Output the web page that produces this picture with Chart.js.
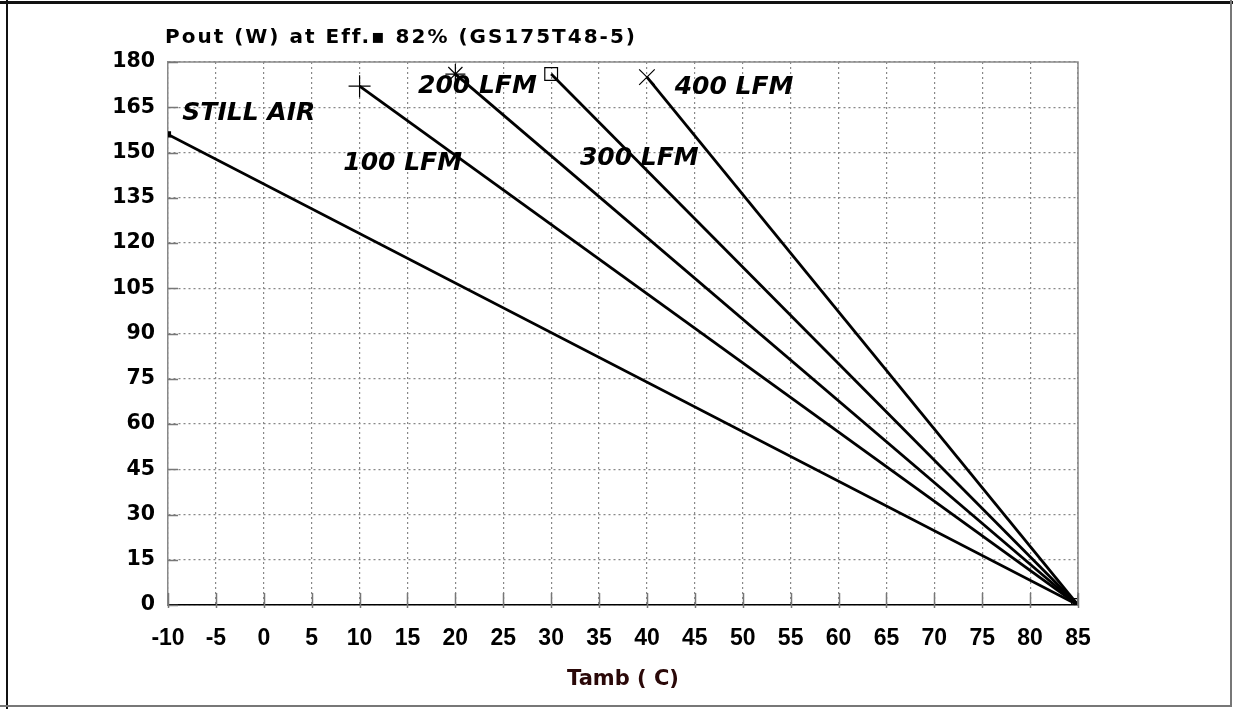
<!DOCTYPE html>
<html>
<head>
<meta charset="utf-8">
<script src="https://cdn.jsdelivr.net/npm/chart.js@4.4.0/dist/chart.umd.min.js"></script>
<style>
  html, body { margin: 0; padding: 0; background: #fff; }
  #wrap { width: 1233px; height: 709px; }
</style>
</head>
<body>
<div id="wrap"><canvas id="derate_chart"></canvas></div>
<script>
// derating curves, GS175T48-5
var seriesNames = ["STILL AIR", "100 LFM", "200 LFM", "300 LFM", "400 LFM"];
var startTemp = [-10, 10, 20, 30, 40];
var startPout = [156, 172, 176, 176, 175];
var endTemp = 85;
var endPout = 0;
var markers = ['rect', 'cross', 'star', 'rect', 'crossRot'];

var xTicks = [-10, -5, 0, 5, 10, 15, 20, 25, 30, 35, 40, 45, 50, 55, 60, 65, 70, 75, 80, 85];
var yTicks = [0, 15, 30, 45, 60, 75, 90, 105, 120, 135, 150, 165, 180];

// where the curve names are written (data units)
var labelTemp = [-8.5, 8.3, 16.1, 33, 42.9];
var labelPout = [163, 146.5, 172, 148, 171.7];

var titleText = "Pout (W) at Eff.\u25AA 82% (GS175T48-5)";

var datasets = seriesNames.map(function (name, i) {
    var r = 10;
    if (i === 0) r = 3.5;
    else if (markers[i] === 'rect') r = 9;
    else if (markers[i] === 'crossRot') r = 11;
    else if (markers[i] === 'cross') r = 11;
    return {
        label: name,
        data: [{ x: startTemp[i], y: startPout[i] }, { x: endTemp, y: endPout }],
        borderColor: '#000',
        borderWidth: 2.8,
        pointStyle: markers[i],
        pointRadius: r,
        pointBorderColor: '#000',
        pointBorderWidth: 1.2,
        pointBackgroundColor: i === 0 ? '#000' : 'rgba(0,0,0,0)',
        showLine: true,
        fill: false
    };
});

var extras = {
    id: 'extras',
    beforeDraw: function (chart) {
        var ctx = chart.ctx;
        ctx.save();
        ctx.fillStyle = '#fff';
        ctx.fillRect(0, 0, chart.width, chart.height);
        ctx.restore();
    },
    afterDraw: function (chart) {
        var ctx = chart.ctx;
        var a = chart.chartArea;
        var xs = chart.scales.x, ys = chart.scales.y;
        ctx.save();
        // outer frame
        ctx.strokeStyle = '#111';
        ctx.lineWidth = 3;
        ctx.beginPath(); ctx.moveTo(0, 2.5); ctx.lineTo(chart.width, 2.5); ctx.stroke();
        ctx.lineWidth = 2;
        ctx.beginPath(); ctx.moveTo(7, 0); ctx.lineTo(7, chart.height); ctx.stroke();
        ctx.strokeStyle = '#777';
        ctx.beginPath(); ctx.moveTo(1231, 0); ctx.lineTo(1231, 706); ctx.lineTo(0, 706); ctx.stroke();
        // plot box top and right
        ctx.strokeStyle = '#888';
        ctx.lineWidth = 1.5;
        ctx.beginPath();
        ctx.moveTo(a.left, a.top); ctx.lineTo(a.right, a.top); ctx.lineTo(a.right, a.bottom);
        ctx.stroke();
        // inside ticks
        ctx.strokeStyle = '#777';
        ctx.lineWidth = 1.5;
        xTicks.forEach(function (t) {
            var px = Math.round(xs.getPixelForValue(t)) + 0.5;
            ctx.beginPath(); ctx.moveTo(px, a.bottom - 12); ctx.lineTo(px, a.bottom + 3); ctx.stroke();
        });
        yTicks.forEach(function (t) {
            var py = Math.round(ys.getPixelForValue(t)) + 0.5;
            ctx.beginPath(); ctx.moveTo(a.left, py); ctx.lineTo(a.left + 10, py); ctx.stroke();
        });
        // title
        ctx.fillStyle = '#000';
        ctx.font = 'bold 20px "DejaVu Sans", sans-serif';
        ctx.letterSpacing = '2px';
        ctx.textAlign = 'left';
        ctx.textBaseline = 'middle';
        ctx.fillText(titleText, 165, 38);
        ctx.letterSpacing = '0px';
        // curve names
        ctx.font = 'italic bold 25px "DejaVu Sans", sans-serif';
        seriesNames.forEach(function (name, i) {
            ctx.fillText(name, xs.getPixelForValue(labelTemp[i]), ys.getPixelForValue(labelPout[i]));
        });
        ctx.restore();
    }
};

new Chart(document.getElementById("derate_chart").getContext("2d"), {
    type: 'scatter',
    data: { datasets: datasets },
    options: {
        responsive: true,
        maintainAspectRatio: false,
        animation: false,
        events: [],
        layout: { padding: { left: 8, right: 155, top: 62, bottom: 4 } },
        plugins: { legend: { display: false }, tooltip: { enabled: false } },
        scales: {
            x: {
                type: 'linear',
                min: -10,
                max: 85,
                afterBuildTicks: function (scale) {
                    scale.ticks = xTicks.map(function (v) { return { value: v }; });
                },
                afterFit: function (scale) { scale.height = 100; },
                grid: { color: '#888', lineWidth: 1.2, drawTicks: false },
                border: { color: '#000', width: 1.5, dash: [2, 3] },
                ticks: {
                    color: '#000',
                    padding: 20,
                    maxRotation: 0,
                    autoSkip: false,
                    font: { family: '"Liberation Sans", Arial, sans-serif', size: 23, weight: 'bold' }
                },
                title: {
                    display: true,
                    text: 'Tamb ( C)',
                    color: '#2a0808',
                    padding: { top: 0, bottom: 13 },
                    font: { family: '"DejaVu Sans", sans-serif', size: 21, weight: 'bold' }
                }
            },
            y: {
                type: 'linear',
                min: 0,
                max: 180,
                afterBuildTicks: function (scale) {
                    scale.ticks = yTicks.map(function (v) { return { value: v }; });
                },
                afterFit: function (scale) { scale.width = 160; },
                grid: { color: '#888', lineWidth: 1.2, drawTicks: false },
                border: { color: '#888', width: 1.5, dash: [2, 3] },
                ticks: {
                    color: '#000',
                    padding: 13,
                    autoSkip: false,
                    font: { family: '"DejaVu Sans", sans-serif', size: 20.5, weight: 'bold' }
                }
            }
        }
    },
    plugins: [extras]
});
</script>
</body>
</html>
